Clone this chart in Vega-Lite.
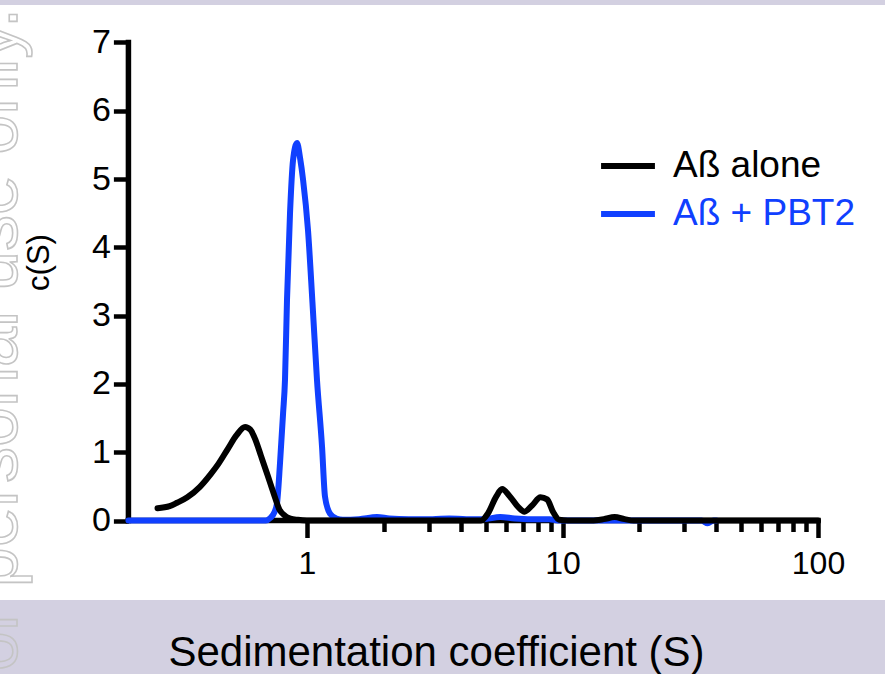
{
  "$schema": "https://vega.github.io/schema/vega-lite/v6.json",
  "width": 885,
  "height": 595,
  "autosize": "none",
  "padding": {"left": 0, "top": 5, "right": 0, "bottom": 74},
  "background": "#d3d0e1",
  "view": {"fill": "white", "stroke": null},
  "config": {"font": "Liberation Sans", "axis": {"grid": false}},
  "datasets": {
    "axes": [
      {"x": 0.2, "x2": 100, "y": 0, "y2": 0},
      {"x": 0.2, "x2": 0.2, "y": 0, "y2": 7}
    ],
    "watermark": [{"label": "For personal use only."}],
    "curves": [
      {"series": "Aß + PBT2", "S": 0.2, "c": 0},
      {"series": "Aß + PBT2", "S": 0.3, "c": 0},
      {"series": "Aß + PBT2", "S": 0.45, "c": 0},
      {"series": "Aß + PBT2", "S": 0.6, "c": 0},
      {"series": "Aß + PBT2", "S": 0.69, "c": 0},
      {"series": "Aß + PBT2", "S": 0.72, "c": 0.04},
      {"series": "Aß + PBT2", "S": 0.745, "c": 0.12},
      {"series": "Aß + PBT2", "S": 0.763, "c": 0.25},
      {"series": "Aß + PBT2", "S": 0.784, "c": 0.84},
      {"series": "Aß + PBT2", "S": 0.806, "c": 1.57},
      {"series": "Aß + PBT2", "S": 0.82, "c": 2.06},
      {"series": "Aß + PBT2", "S": 0.835, "c": 3.23},
      {"series": "Aß + PBT2", "S": 0.858, "c": 4.5},
      {"series": "Aß + PBT2", "S": 0.882, "c": 5.28},
      {"series": "Aß + PBT2", "S": 0.914, "c": 5.53},
      {"series": "Aß + PBT2", "S": 0.94, "c": 5.3},
      {"series": "Aß + PBT2", "S": 0.965, "c": 4.99},
      {"series": "Aß + PBT2", "S": 1.009, "c": 4.25},
      {"series": "Aß + PBT2", "S": 1.05, "c": 3.2},
      {"series": "Aß + PBT2", "S": 1.094, "c": 2.06},
      {"series": "Aß + PBT2", "S": 1.145, "c": 1.08},
      {"series": "Aß + PBT2", "S": 1.176, "c": 0.35},
      {"series": "Aß + PBT2", "S": 1.23, "c": 0.1},
      {"series": "Aß + PBT2", "S": 1.3, "c": 0.03},
      {"series": "Aß + PBT2", "S": 1.38, "c": 0.01},
      {"series": "Aß + PBT2", "S": 1.6, "c": 0.02},
      {"series": "Aß + PBT2", "S": 1.88, "c": 0.05},
      {"series": "Aß + PBT2", "S": 2.1, "c": 0.03},
      {"series": "Aß + PBT2", "S": 2.5, "c": 0.02},
      {"series": "Aß + PBT2", "S": 3.1, "c": 0.02},
      {"series": "Aß + PBT2", "S": 3.6, "c": 0.03},
      {"series": "Aß + PBT2", "S": 4.2, "c": 0.02},
      {"series": "Aß + PBT2", "S": 4.9, "c": 0.02},
      {"series": "Aß + PBT2", "S": 5.7, "c": 0.05},
      {"series": "Aß + PBT2", "S": 6.5, "c": 0.03},
      {"series": "Aß + PBT2", "S": 7.5, "c": 0.02},
      {"series": "Aß + PBT2", "S": 8.9, "c": 0.02},
      {"series": "Aß + PBT2", "S": 9.6, "c": 0},
      {"series": "Aß + PBT2", "S": 12, "c": 0},
      {"series": "Aß + PBT2", "S": 20, "c": 0},
      {"series": "Aß + PBT2", "S": 30, "c": 0},
      {"series": "Aß + PBT2", "S": 35, "c": 0},
      {"series": "Aß + PBT2", "S": 37, "c": -0.04},
      {"series": "Aß + PBT2", "S": 39, "c": 0},
      {"series": "Aß + PBT2", "S": 40, "c": 0},
      {"series": "Aß alone", "S": 0.26, "c": 0.18},
      {"series": "Aß alone", "S": 0.29, "c": 0.21},
      {"series": "Aß alone", "S": 0.31, "c": 0.26},
      {"series": "Aß alone", "S": 0.34, "c": 0.34},
      {"series": "Aß alone", "S": 0.38, "c": 0.49},
      {"series": "Aß alone", "S": 0.42, "c": 0.68},
      {"series": "Aß alone", "S": 0.45, "c": 0.83},
      {"series": "Aß alone", "S": 0.49, "c": 1.05},
      {"series": "Aß alone", "S": 0.53, "c": 1.25},
      {"series": "Aß alone", "S": 0.572, "c": 1.37},
      {"series": "Aß alone", "S": 0.6, "c": 1.33},
      {"series": "Aß alone", "S": 0.63, "c": 1.17},
      {"series": "Aß alone", "S": 0.66, "c": 0.95},
      {"series": "Aß alone", "S": 0.7, "c": 0.67},
      {"series": "Aß alone", "S": 0.74, "c": 0.4},
      {"series": "Aß alone", "S": 0.78, "c": 0.16},
      {"series": "Aß alone", "S": 0.82, "c": 0.07},
      {"series": "Aß alone", "S": 0.86, "c": 0.03},
      {"series": "Aß alone", "S": 0.92, "c": 0.01},
      {"series": "Aß alone", "S": 1.0, "c": 0},
      {"series": "Aß alone", "S": 1.5, "c": 0},
      {"series": "Aß alone", "S": 2.5, "c": 0},
      {"series": "Aß alone", "S": 4.0, "c": 0},
      {"series": "Aß alone", "S": 4.8, "c": 0},
      {"series": "Aß alone", "S": 5.1, "c": 0.1},
      {"series": "Aß alone", "S": 5.5, "c": 0.35},
      {"series": "Aß alone", "S": 5.8, "c": 0.46},
      {"series": "Aß alone", "S": 6.2, "c": 0.36},
      {"series": "Aß alone", "S": 6.7, "c": 0.2},
      {"series": "Aß alone", "S": 7.1, "c": 0.13},
      {"series": "Aß alone", "S": 7.6, "c": 0.22},
      {"series": "Aß alone", "S": 8.2, "c": 0.34},
      {"series": "Aß alone", "S": 8.7, "c": 0.31},
      {"series": "Aß alone", "S": 9.2, "c": 0.12},
      {"series": "Aß alone", "S": 9.7, "c": 0.01},
      {"series": "Aß alone", "S": 10.5, "c": 0},
      {"series": "Aß alone", "S": 13, "c": 0},
      {"series": "Aß alone", "S": 14.5, "c": 0.02},
      {"series": "Aß alone", "S": 16, "c": 0.05},
      {"series": "Aß alone", "S": 17.5, "c": 0.02},
      {"series": "Aß alone", "S": 19, "c": 0},
      {"series": "Aß alone", "S": 30, "c": 0},
      {"series": "Aß alone", "S": 60, "c": 0},
      {"series": "Aß alone", "S": 100, "c": 0}
    ]
  },
  "layer": [
    {
      "data": {"name": "axes"},
      "mark": {"type": "rule", "color": "black", "strokeWidth": 5.5, "strokeCap": "square"},
      "encoding": {
        "x": {
          "field": "x",
          "type": "quantitative",
          "scale": {"type": "log", "domain": [0.06286, 182.9], "nice": false, "zero": false},
          "axis": {
            "orient": "bottom",
            "offset": -79.5,
            "domain": false,
            "values": [1, 2, 3, 4, 5, 6, 7, 8, 9, 10, 20, 30, 40, 50, 60, 70, 80, 90, 100],
            "labelExpr": "(datum.value == 1 || datum.value == 10 || datum.value == 100) ? datum.label : ''",
            "tickSize": {"condition": {"test": "datum.value == 1 || datum.value == 10 || datum.value == 100", "value": 17}, "value": 11},
            "tickWidth": 4.5,
            "tickColor": "black",
            "labelFontSize": 32,
            "labelColor": "black",
            "labelBaseline": "alphabetic",
            "labelPadding": 36,
            "labelOverlap": false,
            "labelFlush": false,
            "title": "Sedimentation coefficient (S)",
            "titleFontSize": 42,
            "titleFontWeight": "normal",
            "titleColor": "black",
            "titleBaseline": "alphabetic",
            "titleX": 436,
            "titleY": 145
          }
        },
        "x2": {"field": "x2"},
        "y": {
          "field": "y",
          "type": "quantitative",
          "scale": {"domain": [-1.164, 7.549], "nice": false, "zero": false},
          "axis": {
            "orient": "left",
            "offset": -128.4,
            "domain": false,
            "values": [0, 1, 2, 3, 4, 5, 6, 7],
            "format": "d",
            "tickSize": 15,
            "tickWidth": 4.5,
            "tickColor": "black",
            "labelFontSize": 34,
            "labelColor": "black",
            "labelPadding": 3,
            "title": "c(S)",
            "titleFontSize": 31,
            "titleFontWeight": "normal",
            "titleColor": "black",
            "titleBaseline": "alphabetic",
            "titleAngle": -90,
            "titleX": -80,
            "titleY": 257
          }
        },
        "y2": {"field": "y2"}
      }
    },
    {
      "data": {"name": "watermark"},
      "mark": {"type": "text", "angle": 270, "align": "left", "baseline": "alphabetic", "fontSize": 72, "fillOpacity": 0, "stroke": "#c4c4c4", "strokeWidth": 1.6},
      "encoding": {
        "x": {"datum": 0.0733, "type": "quantitative"},
        "y": {"datum": -2.85, "type": "quantitative"},
        "text": {"field": "label"}
      }
    },
    {
      "data": {"name": "curves"},
      "transform": [{"filter": "datum.series === 'Aß + PBT2'"}],
      "mark": {"type": "line", "strokeWidth": 6, "interpolate": "monotone", "strokeCap": "round", "strokeJoin": "round"},
      "encoding": {
        "x": {"field": "S", "type": "quantitative"},
        "y": {"field": "c", "type": "quantitative"},
        "color": {
          "field": "series",
          "type": "nominal",
          "scale": {"domain": ["Aß alone", "Aß + PBT2"], "range": ["black", "#1040ff"]},
          "legend": {
            "orient": "none",
            "legendX": 598,
            "legendY": 131,
            "title": null,
            "padding": 0,
            "symbolType": "stroke",
            "symbolSize": 2900,
            "symbolStrokeWidth": 6,
            "labelFontSize": 37,
            "labelOffset": 15,
            "labelLimit": 400,
            "rowPadding": -2,
            "encode": {
              "labels": {"update": {"fill": {"signal": "datum.value === 'Aß alone' ? 'black' : '#1040ff'"}}}
            }
          }
        }
      }
    },
    {
      "data": {"name": "curves"},
      "transform": [{"filter": "datum.series === 'Aß alone'"}],
      "mark": {"type": "line", "strokeWidth": 6, "interpolate": "monotone", "strokeCap": "round", "strokeJoin": "round"},
      "encoding": {
        "x": {"field": "S", "type": "quantitative"},
        "y": {"field": "c", "type": "quantitative"},
        "color": {"field": "series", "type": "nominal"}
      }
    }
  ]
}
